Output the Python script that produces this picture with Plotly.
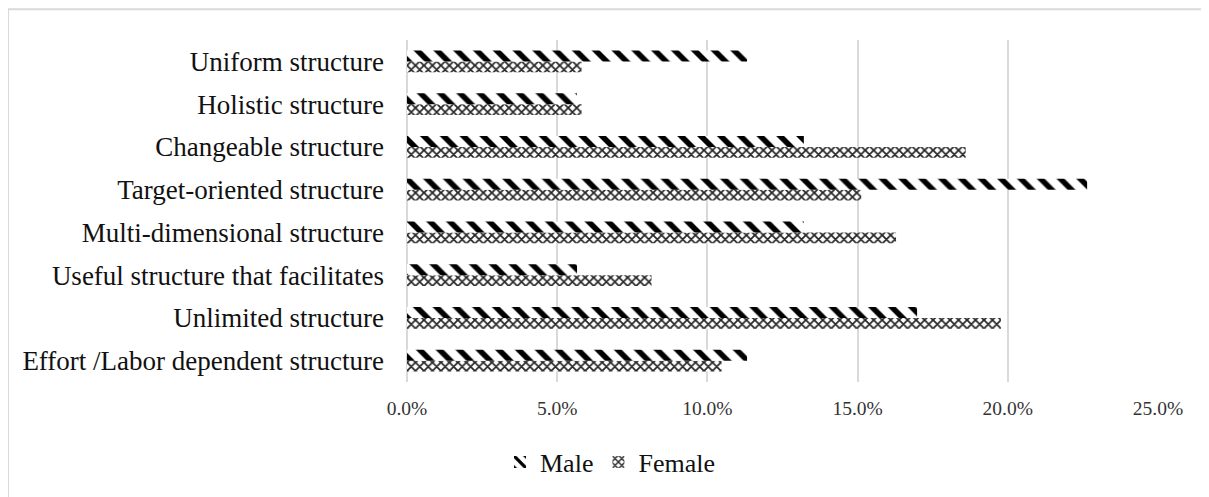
import plotly.graph_objects as go

categories = [
    "Effort /Labor dependent structure",
    "Unlimited structure",
    "Useful structure that facilitates",
    "Multi-dimensional structure",
    "Target-oriented structure",
    "Changeable structure",
    "Holistic structure",
    "Uniform structure",
]
male = [0.1132, 0.1698, 0.0566, 0.1321, 0.2264, 0.1321, 0.0566, 0.1132]
female = [0.1047, 0.1977, 0.0814, 0.1628, 0.1512, 0.1860, 0.0581, 0.0581]
tick_vals = [0, 0.05, 0.10, 0.15, 0.20, 0.25]
tick_text = ["0.0%", "5.0%", "10.0%", "15.0%", "20.0%", "25.0%"]

# page body has an 8px margin, so the figure is drawn at (8, 8)
OFF = 8
W, H = 1209 - OFF, 497 - OFF
L, R, T, B = 407 - OFF, 51, 40 - OFF, 111
pw, ph = W - L - R, H - T - B

def px(x):
    return (x - OFF - L) / pw

def py(y):
    return (H + OFF - B - y) / ph

fig = go.Figure()
fig.add_trace(go.Bar(
    y=categories, x=female, orientation="h", name="Female", legendrank=2,
    marker=dict(color="white", line=dict(width=0),
                pattern=dict(shape="x", size=6, solidity=0.5, fgcolor="#262626",
                             fgopacity=1, bgcolor="white", fillmode="overlay")),
))
fig.add_trace(go.Bar(
    y=categories, x=male, orientation="h", name="Male", legendrank=1,
    marker=dict(color="white", line=dict(width=0),
                pattern=dict(shape="\\", size=14, solidity=0.4, fgcolor="black",
                             fgopacity=1, bgcolor="white", fillmode="overlay")),
))

# outer chart border (top and left visible)
border = "#d9d9d9"
fig.add_shape(type="line", xref="paper", yref="paper",
              x0=px(8), x1=px(1215), y0=py(9), y1=py(9),
              line=dict(color=border, width=2))
fig.add_shape(type="line", xref="paper", yref="paper",
              x0=px(8), x1=px(8), y0=py(9), y1=py(505),
              line=dict(color=border, width=2))

fig.update_layout(
    width=W, height=H,
    margin=dict(l=L, r=R, t=T, b=B, pad=0),
    paper_bgcolor="white", plot_bgcolor="white",
    barmode="group", bargap=0.49, bargroupgap=0,
    font=dict(family="Liberation Serif, Times New Roman, serif", color="#222"),
    showlegend=True,
    legend=dict(orientation="h", x=px(610), xanchor="center", y=py(467), yanchor="middle",
                font=dict(size=26, color="#111"), itemwidth=30, traceorder="normal"),
    xaxis=dict(range=[0, 0.25], tickvals=tick_vals, ticktext=tick_text,
               showgrid=True, gridcolor="#d9d9d9", gridwidth=1.5,
               zeroline=True, zerolinecolor="#d9d9d9", zerolinewidth=1.5,
               showline=False, ticks="", tickfont=dict(size=19.5, color="#333"),
               ticklabelstandoff=12, fixedrange=True),
    yaxis=dict(categoryorder="array", categoryarray=categories, range=[-0.5, 7.5],
               showgrid=False, showline=False, ticks="", zeroline=False,
               tickfont=dict(size=27, color="#111"), ticklabelstandoff=22),
)

fig.write_html("out.html")
